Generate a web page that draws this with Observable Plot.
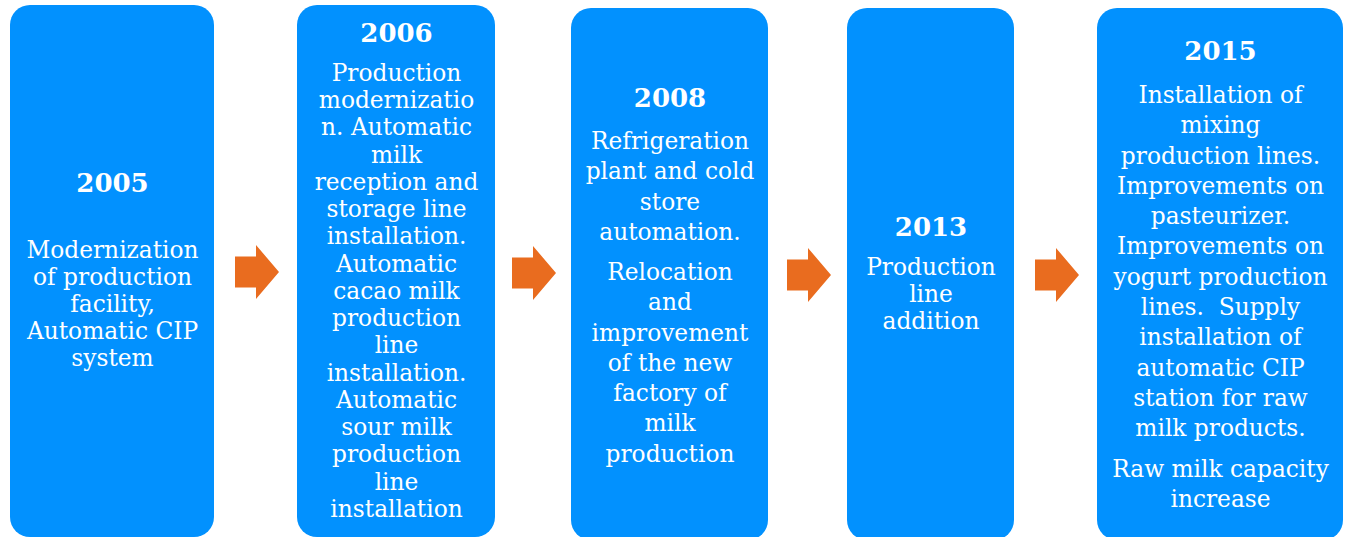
<!DOCTYPE html>
<html>
<head>
<meta charset="utf-8">
<script src="https://cdn.jsdelivr.net/npm/d3@7"></script>
<script src="https://cdn.jsdelivr.net/npm/@observablehq/plot@0.6"></script>
<style>
  html, body { margin: 0; padding: 0; background: #ffffff; }
  #chart svg { display: block; }
</style>
</head>
<body>
<div id="chart"></div>
<script>
// ---- content ----
const years = ["2005", "2006", "2008", "2013", "2015"];
const paragraphs = [
  [["Modernization", "of production", "facility,", "Automatic CIP", "system"]],
  [["Production", "modernizatio", "n. Automatic", "milk", "reception and", "storage line",
    "installation.", "Automatic", "cacao milk", "production", "line", "installation.",
    "Automatic", "sour milk", "production", "line", "installation"]],
  [["Refrigeration", "plant and cold", "store", "automation."],
   ["Relocation", "and", "improvement", "of the new", "factory of", "milk", "production"]],
  [["Production", "line", "addition"]],
  [["Installation of", "mixing", "production lines.", "Improvements on", "pasteurizer.",
    "Improvements on", "yogurt production", "lines.  Supply", "installation of",
    "automatic CIP", "station for raw", "milk products."],
   ["Raw milk capacity", "increase"]]
];

// ---- layout (pixel space) ----
const W = 1348, H = 537;
const boxLeft   = [10, 297, 571, 847, 1097];
const boxRight  = [214, 495, 768, 1014, 1343];
const boxTop    = [5, 5, 8, 8, 8];
const boxBottom = [537, 537, 540, 540, 540];
const yearY     = [183, 33, 98, 227, 51];
const paraY     = [[250], [73], [141, 272], [267], [95, 469]];
const lineStep  = [27, 27.25, 30.3, 27, 30.3];
const arrowCx   = [257, 534, 809, 1057];
const arrowCy   = [272, 273, 275, 275];

const boxes = years.map((y, i) => ({
  year: y, x1: boxLeft[i], x2: boxRight[i], y1: boxTop[i], y2: boxBottom[i],
  cx: (boxLeft[i] + boxRight[i]) / 2, yy: yearY[i]
}));

const lines = [];
paragraphs.forEach((paras, i) => {
  paras.forEach((para, p) => {
    para.forEach((t, k) => {
      lines.push({text: t, x: boxes[i].cx, y: paraY[i][p] + k * lineStep[i]});
    });
  });
});

// arrow outline as area strips: shaft then head
const arrows = [];
arrowCx.forEach((cx, i) => {
  const cy = arrowCy[i];
  const x0 = cx - 22, xh = cx - 1, xt = cx + 22;
  arrows.push({z: i, x: x0, y1: cy - 15.5, y2: cy + 15.5});
  arrows.push({z: i, x: xh, y1: cy - 15.5, y2: cy + 15.5});
  arrows.push({z: i, x: xh, y1: cy - 27, y2: cy + 27});
  arrows.push({z: i, x: xt, y1: cy, y2: cy});
});

const serif = "'DejaVu Serif', serif";

const chart = Plot.plot({
  width: W, height: H,
  marginTop: 0, marginRight: 0, marginBottom: 0, marginLeft: 0,
  x: {domain: [0, W], range: [0, W], axis: null},
  y: {domain: [0, H], range: [0, H], axis: null},
  style: {background: "#ffffff"},
  marks: [
    Plot.rect(boxes, {x1: "x1", x2: "x2", y1: "y1", y2: "y2", fill: "#0291FE", rx: 20}),
    Plot.area(arrows, {x1: "x", y1: "y1", y2: "y2", z: "z", fill: "#E96C1F", curve: "linear"}),
    Plot.text(boxes, {x: "cx", y: "yy", text: "year", fill: "white", fontSize: 26,
      fontWeight: "bold", fontFamily: serif, lineAnchor: "middle"}),
    Plot.text(lines, {x: "x", y: "y", text: "text", fill: "white", fontSize: 23.3,
      fontFamily: serif, lineAnchor: "middle"})
  ]
});
document.getElementById("chart").appendChild(chart);
</script>
</body>
</html>
